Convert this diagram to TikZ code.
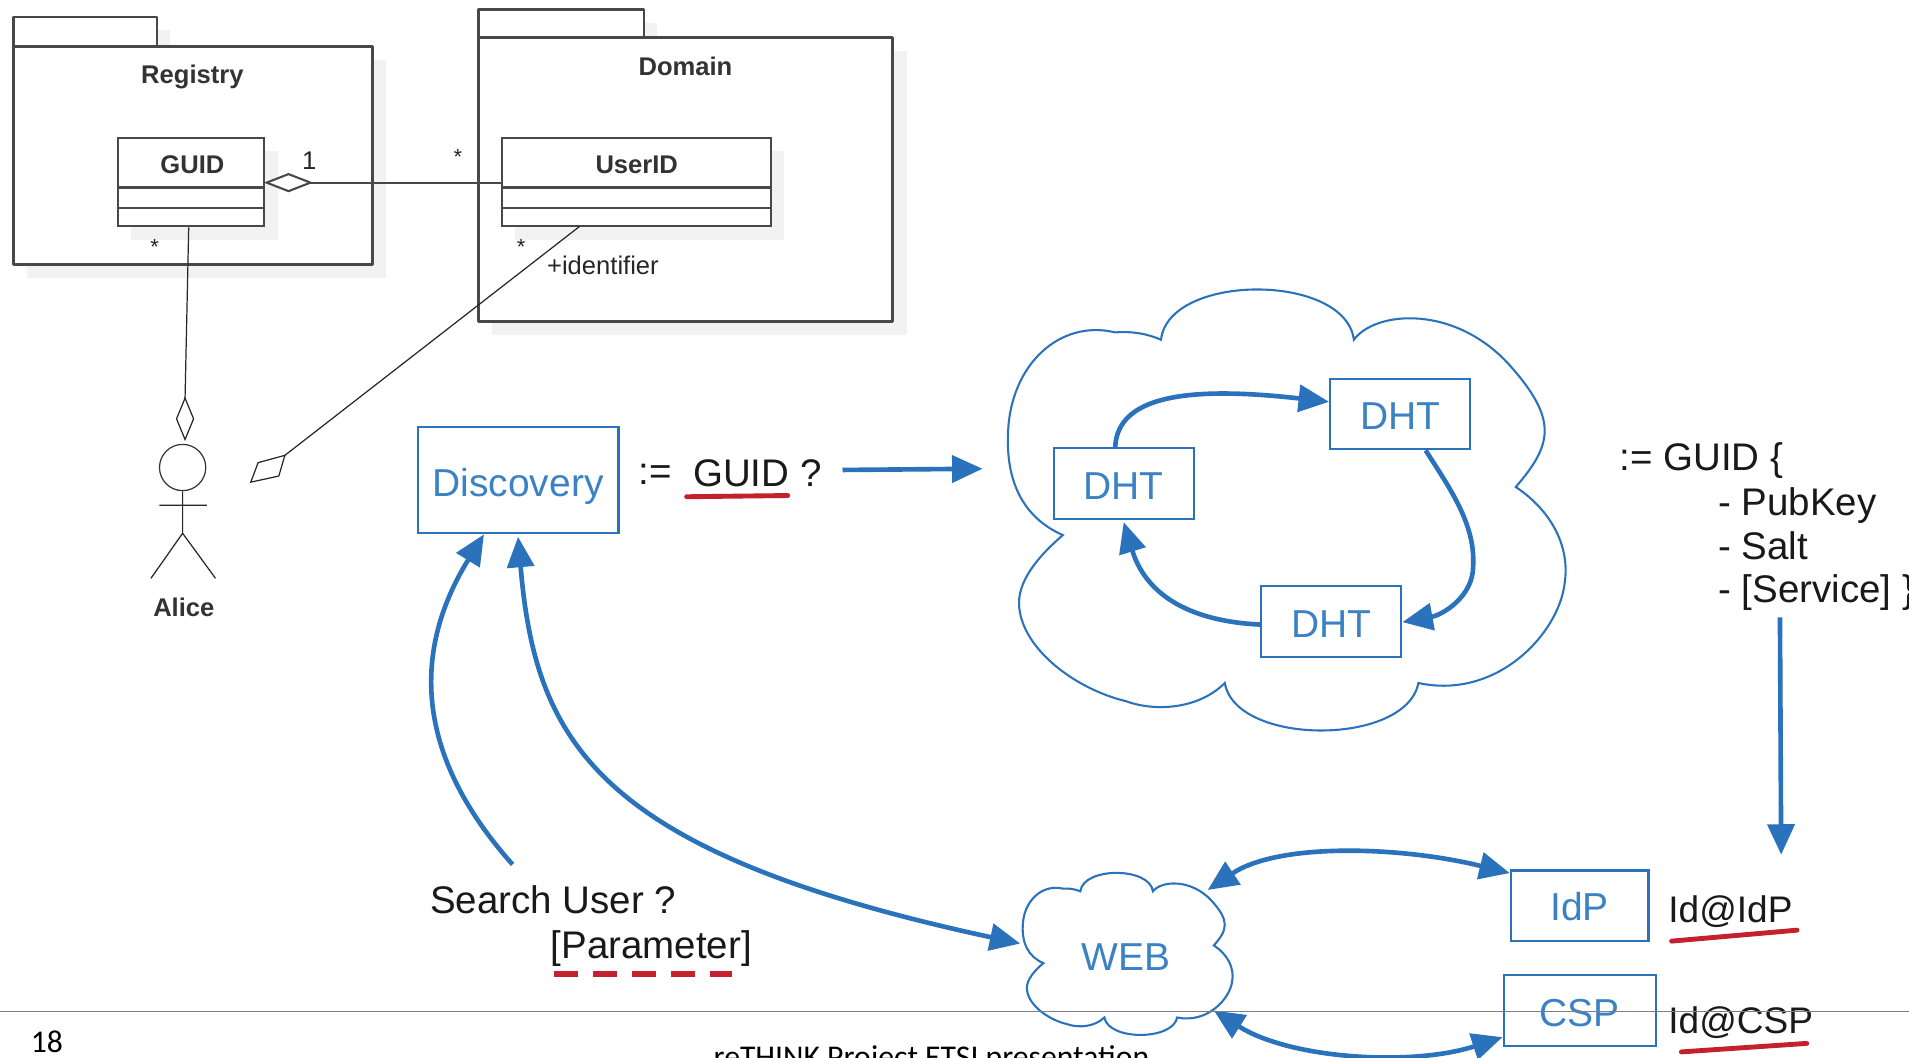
\documentclass[tikz,border=0pt]{standalone}
\usepackage{fontspec}
\setmainfont{Liberation Sans}
\newfontfamily\footfont{Carlito}
\usetikzlibrary{arrows.meta}
\definecolor{bl}{HTML}{2A72BC}
\definecolor{blt}{HTML}{3A82C4}
\definecolor{rd}{HTML}{C4202E}
\definecolor{umlc}{HTML}{484848}
\definecolor{shad}{HTML}{F2F2F2}
\newcommand{\lowertext}[2]{\raisebox{-#1}[\height][\depth]{#2}}
\newcommand{\cloudshape}{
  (953.6,279) .. controls (960,224) and (1105,224) .. (1112,279)
  .. controls (1130,255) and (1195,250) .. (1240,300)
  .. controls (1280,345) and (1275,365) .. (1245,400)
  .. controls (1275,420) and (1290,450) .. (1285,480)
  .. controls (1280,520) and (1230,575) .. (1165,561)
  .. controls (1155,613) and (1015,613) .. (1006,561)
  .. controls (985,582) and (950,585) .. (925,576)
  .. controls (880,565) and (837,530) .. (837,495)
  .. controls (837,475) and (855,455) .. (873,439.5)
  .. controls (840,425) and (826,395) .. (828,355)
  .. controls (830,300) and (870,262) .. (916,273)
  .. controls (930,272) and (942,274) .. (953.6,279) -- cycle}
\tikzset{
  pkg/.style={draw=umlc,line width=1.1pt,line join=round},
  uml/.style={draw=umlc,line width=0.85pt},
  thinl/.style={draw=black!85,line width=0.5pt},
  umltext/.style={font=\fontsize{10.5}{12}\selectfont,text=black!85,inner sep=0pt},
  umlbold/.style={font=\bfseries\fontsize{10.5}{12}\selectfont,text=black!80,inner sep=0pt},
  star/.style={font=\fontsize{9}{10}\selectfont,text=black!85,inner sep=0pt},
  bbox/.style={draw=bl,line width=0.9pt,fill=white,inner sep=0pt,text=blt,font=\fontsize{16}{18}\selectfont},
  txt/.style={font=\fontsize{15.8}{19}\selectfont,text=black!90,inner sep=0pt,anchor=west},
  idtxt/.style={font=\fontsize{15.2}{19}\selectfont,text=black!90,inner sep=0pt,anchor=west},
  cloudline/.style={draw=bl,line width=0.85pt},
  flow/.style={draw=bl,line width=1.9pt,-{Triangle[length=12.5pt,width=11pt]}},
  flowtwo/.style={draw=bl,line width=1.9pt,{Triangle[length=12.5pt,width=11pt]}-{Triangle[length=12.5pt,width=11pt]}},
  redline/.style={draw=rd,line width=2pt,line cap=round},
  footer/.style={font=\footfont\fontsize{13}{15}\selectfont,inner sep=0pt},
}
\begin{document}
\begin{tikzpicture}[x=0.5pt,y=-0.5pt]
\path[use as bounding box,fill=white] (0,0) rectangle (1568,868.2);
\clip (0,0) rectangle (1568,868.2);
% shadows
\fill[shad] (22,49) rectangle (317,228);
\fill[shad] (404,42) rectangle (745,275);
\fill[shad] (129,25) rectangle (140,38);
\fill[shad] (529,19) rectangle (540,31);
% packages
\draw[pkg,fill=white] (11,14) rectangle (129,38);
\draw[pkg,fill=white] (393,8) rectangle (529,31);
\node[pkg,fill=white,minimum width=147.5pt,minimum height=89.5pt,inner sep=0pt] (registry) at (158.5,127.5) {};
\node[pkg,fill=white,minimum width=170pt,minimum height=116.5pt,inner sep=0pt] (domain) at (563,147.5) {};
\node[umlbold] (regl) at (158,63) {Registry};
\node[umlbold] (doml) at (563,54.5) {Domain};
% class shadows
\fill[shad] (108,124) rectangle (228,197);
\fill[shad] (423,124) rectangle (644,197);
% classes
\node[uml,fill=white,minimum width=60pt,minimum height=36.5pt,inner sep=0pt] (guid) at (157,149.5) {};
\node[uml,fill=white,minimum width=110.5pt,minimum height=36.5pt,inner sep=0pt] (userid) at (522.5,149.5) {};
\draw[uml] (97,154) -- (217,154) (97,171) -- (217,171);
\draw[uml] (412,154) -- (633,154) (412,171) -- (633,171);
\node[umlbold] (guidl) at (158,135) {GUID};
\node[umlbold] (useridl) at (523,135) {UserID};
% aggregation
\coordinate (d1) at (255,150);
\draw[uml] (d1) -- (userid.west |- d1);
\draw[uml,fill=white] (219,150) -- (237,143) -- (d1) -- (237,157) -- cycle;
\node[umltext] (one) at (254,132) {1};
\node[star] (s1) at (376,129) {*};
\node[star] (s2) at (127,203) {*};
\node[star] (s3) at (428,203) {*};
\node[umltext,anchor=west] (ident) at (449,218) {+identifier};
% actor
\node[draw=black!80,line width=0.5pt,circle,minimum size=19pt,inner sep=0pt] (head) at (150,384) {};
\coordinate (hip) at (150,438);
\coordinate (armL) at (131,415);
\coordinate (armR) at (170,415);
\coordinate (legL) at (124,475);
\coordinate (legR) at (177,475);
\draw[thinl] (head.south) -- (hip) (armL) -- (armR) (legL) -- (hip) -- (legR);
\node[umlbold] (alice) at (151,499) {Alice};
\coordinate (d2) at (152,327);
\coordinate (d3) at (234,374);
\draw[thinl] ([xshift=-1pt]guid.south) -- (d2);
\draw[thinl] (476,186) -- (d3);
\draw[thinl,fill=white] (d2) -- (159,344) -- (152,361) -- (145,344) -- cycle;
\draw[thinl,fill=white] (d3) -- (229,391) -- (206,396) -- (212,380) -- cycle;
% discovery
\node[bbox,minimum width=82.5pt,minimum height=43.5pt] (disc) at (425.5,394.5) {\lowertext{2.5pt}{Discovery}};
\node[txt] (assign) at (524,390) {:=};
\node[txt] (guidq) at (569,389) {GUID ?};
\draw[redline] (564,408) -- (647,407);
\coordinate (q1) at (692,386);
\coordinate (q2) at (807,385);
\draw[flow] (q1) -- (q2);
% cloud
\draw[cloudline] \cloudshape;
\node[bbox,minimum width=57.5pt,minimum height=29pt] (dht1) at (923,397) {\lowertext{1.2pt}{DHT}};
\node[bbox,minimum width=57.5pt,minimum height=29pt] (dht2) at (1150,340) {\lowertext{1pt}{DHT}};
\node[bbox,minimum width=57.5pt,minimum height=29pt] (dht3) at (1093.5,510.5) {\lowertext{1pt}{DHT}};
\draw[flow] ([xshift=-3.5pt]dht1.north) .. controls (918,322) and (985,318) .. (dht2.west |- 0,330);
\draw[flow] ([xshift=10.5pt]dht2.south) .. controls (1190,400) and (1212,430) .. (1210,465) .. controls (1210,490) and (1185,505) .. (dht3.east |- 0,511);
\draw[flow] (dht3.west |- 0,513) .. controls (972,510) and (940,485) .. ([yshift=-1pt]dht1.south);
% right text
\node[txt] (g1) at (1330,378) {:= GUID \{};
\node[txt] (g2) at (1411,415) {- PubKey};
\node[txt] (g3) at (1411,448) {- Salt};
\node[txt] (g4) at (1411,487) {- [Service] \}};
\coordinate (r1) at (1462,507);
\coordinate (r2) at (1463,702);
\draw[flow] (r1) -- (r2);
% web
\begin{scope}[shift={(528.4,629.6)},xscale=0.3764,yscale=0.3674]
\draw[cloudline] \cloudshape;
\end{scope}
\node[bbox,draw=none,fill=none] (web) at (925,786) {WEB};
\node[bbox,minimum width=56.5pt,minimum height=29pt] (idp) at (1297.5,744) {\lowertext{.5pt}{IdP}};
\node[bbox,minimum width=62.5pt,minimum height=29pt] (csp) at (1297.5,830) {\lowertext{1pt}{CSP}};
\node[idtxt] (id1) at (1370,749) {Id@IdP};
\node[idtxt] (id2) at (1370,840) {Id@CSP};
\draw[redline] (1373,773) -- (1476,764);
\draw[redline] (1381,864) -- (1484,857);
\coordinate (w1) at (992,731);
\coordinate (w2) at (997,830);
\coordinate (w3) at (838,775);
\draw[flowtwo] (w1) .. controls (1050,692) and (1150,695) .. ([yshift=-1.5pt]idp.north west);
\draw[flowtwo] (w2) .. controls (1060,870) and (1160,876) .. ([yshift=4pt]csp.south west);
% discovery arrows
\coordinate (s0) at (421,710);
\draw[flow] (s0) .. controls (345,625) and (335,540) .. ([xshift=-14pt]disc.south);
\draw[flowtwo] ([yshift=-1pt]disc.south) .. controls (440,610) and (490,700) .. (w3);
\node[txt] (su) at (353,739) {Search User ?};
\node[txt] (par) at (452,779) {[Parameter]};
\coordinate (pa) at (455,800);
\coordinate (pb) at (601,800);
\draw[draw=rd,line width=2.1pt,dash pattern=on 10pt off 6pt] (pa) -- (pb);
% footer
\coordinate (f1) at (0,831);
\coordinate (f2) at (1568,831);
\draw[draw=black!50,line width=0.6pt] (f1) -- (f2);
\node[footer,anchor=west] (num) at (25,856) {18};
\node[footer,anchor=base] (foot) at (765,877) {reTHINK Project ETSI presentation};
\end{tikzpicture}
\end{document}
